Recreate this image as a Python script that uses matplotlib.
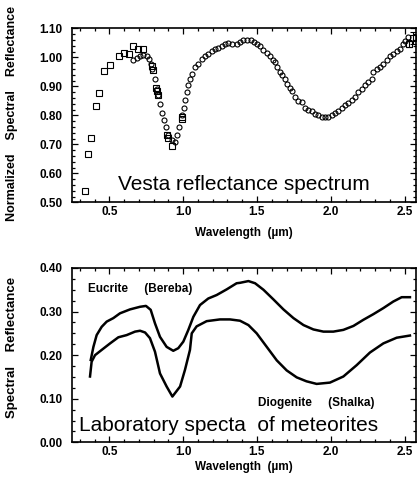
import numpy as np
import matplotlib
matplotlib.use('Agg')
import matplotlib.pyplot as plt
from matplotlib.ticker import MultipleLocator

plt.rcParams['font.family'] = ['Liberation Sans', 'DejaVu Sans']

# Vesta - pontos quadrados (telescopio, visivel)
quad_x = [0.333, 0.353, 0.378, 0.407, 0.428, 0.466, 0.502, 0.563, 0.602, 0.631, 0.663, 0.694,
          0.728, 0.791, 0.796, 0.814, 0.823, 0.827, 0.891, 0.900, 0.927, 0.992, 0.994]
quad_y = [0.540, 0.666, 0.723, 0.832, 0.879, 0.954, 0.975, 1.005, 1.015, 1.013, 1.039, 1.028,
          1.030, 0.969, 0.958, 0.896, 0.884, 0.871, 0.732, 0.723, 0.694, 0.786, 0.795]

# pontos com barra de erro no fim do espectro
erro_x = [2.530, 2.560]
erro_y = [1.048, 1.068]
erro_barra = [0.012, 0.020]

# Vesta - pontos circulares (infravermelho)
circ_x = [0.663, 0.685, 0.708, 0.730, 0.753, 0.769, 0.782, 0.791, 0.809, 0.821, 0.832, 0.843,
          0.859, 0.872, 0.881, 0.900, 0.922, 0.945, 0.956, 0.972, 0.994, 1.008, 1.012, 1.024,
          1.035, 1.046, 1.058, 1.080, 1.103, 1.125, 1.148, 1.170, 1.193, 1.216, 1.238, 1.261,
          1.283, 1.306, 1.328, 1.362, 1.385, 1.407, 1.430, 1.457, 1.480, 1.498, 1.520, 1.543,
          1.565, 1.588, 1.611, 1.622, 1.638, 1.656, 1.667, 1.690, 1.705, 1.723, 1.735, 1.757,
          1.780, 1.802, 1.825, 1.848, 1.870, 1.893, 1.915, 1.938, 1.960, 1.983, 2.006, 2.028,
          2.051, 2.073, 2.096, 2.119, 2.141, 2.164, 2.186, 2.209, 2.231, 2.254, 2.277, 2.288,
          2.310, 2.333, 2.356, 2.378, 2.401, 2.423, 2.446, 2.468, 2.491, 2.502, 2.525]
circ_y = [0.990, 0.998, 1.005, 1.009, 1.005, 0.996, 0.978, 0.961, 0.927, 0.892, 0.872, 0.841,
          0.810, 0.783, 0.761, 0.734, 0.715, 0.709, 0.732, 0.761, 0.801, 0.824, 0.852, 0.881,
          0.904, 0.927, 0.944, 0.967, 0.978, 0.993, 1.005, 1.013, 1.021, 1.028, 1.032, 1.039,
          1.045, 1.051, 1.047, 1.045, 1.053, 1.061, 1.061, 1.059, 1.053, 1.047, 1.038, 1.027,
          1.015, 1.004, 0.992, 0.984, 0.967, 0.950, 0.938, 0.927, 0.910, 0.896, 0.884, 0.864,
          0.850, 0.847, 0.827, 0.820, 0.814, 0.806, 0.801, 0.795, 0.793, 0.793, 0.801, 0.809,
          0.816, 0.824, 0.835, 0.843, 0.852, 0.864, 0.881, 0.892, 0.904, 0.915, 0.927, 0.950,
          0.961, 0.967, 0.978, 0.992, 1.004, 1.013, 1.022, 1.030, 1.045, 1.056, 1.070]

# Meteoritos - Eucrito (Bereba)
eucrito_x = [0.374, 0.392, 0.414, 0.448, 0.482, 0.527, 0.572, 0.640, 0.708, 0.748, 0.780, 0.809,
             0.843, 0.888, 0.933, 0.967, 1.001, 1.035, 1.069, 1.114, 1.170, 1.227, 1.295, 1.362,
             1.385, 1.442, 1.487, 1.544, 1.611, 1.679, 1.747, 1.815, 1.882, 1.950, 2.017, 2.085,
             2.153, 2.220, 2.288, 2.356, 2.423, 2.480, 2.536]
eucrito_y = [0.189, 0.219, 0.246, 0.265, 0.277, 0.285, 0.296, 0.305, 0.311, 0.313, 0.304, 0.273,
             0.242, 0.219, 0.210, 0.216, 0.231, 0.258, 0.288, 0.315, 0.330, 0.338, 0.351, 0.365,
             0.366, 0.370, 0.365, 0.350, 0.328, 0.305, 0.285, 0.269, 0.259, 0.254, 0.254, 0.258,
             0.267, 0.281, 0.294, 0.308, 0.323, 0.333, 0.333]

# Meteoritos - Diogenito (Shalka)
diogenito_x = [0.369, 0.380, 0.403, 0.448, 0.505, 0.561, 0.617, 0.674, 0.708, 0.742, 0.775, 0.809,
               0.843, 0.888, 0.927, 0.979, 1.012, 1.046, 1.058, 1.091, 1.159, 1.249, 1.317, 1.385,
               1.442, 1.498, 1.566, 1.634, 1.701, 1.769, 1.835, 1.904, 1.994, 2.085, 2.175, 2.265,
               2.356, 2.446, 2.536]
diogenito_y = [0.151, 0.185, 0.200, 0.212, 0.227, 0.241, 0.246, 0.254, 0.256, 0.252, 0.239, 0.208,
               0.158, 0.128, 0.105, 0.128, 0.166, 0.212, 0.250, 0.266, 0.278, 0.282, 0.282, 0.279,
               0.269, 0.250, 0.219, 0.188, 0.165, 0.149, 0.140, 0.134, 0.137, 0.151, 0.177, 0.206,
               0.227, 0.240, 0.245]

W, H = 417, 486
fig = plt.figure(figsize=(W / 100, H / 100), dpi=100)
eixo1 = fig.add_axes([72 / W, 1 - 202.3 / H, 344 / W, 173.8 / H])
eixo2 = fig.add_axes([72 / W, 1 - 442.3 / H, 344 / W, 174.3 / H])


def estilo(eixo, minor_y):
    eixo.set_xlim(0.247, 2.577)
    eixo.xaxis.set_major_locator(MultipleLocator(0.5))
    eixo.xaxis.set_minor_locator(MultipleLocator(0.1))
    eixo.yaxis.set_major_locator(MultipleLocator(0.1))
    eixo.yaxis.set_minor_locator(MultipleLocator(minor_y))
    eixo.tick_params(which='both', direction='in', top=True, right=True, width=0.9)
    eixo.tick_params(which='major', length=4)
    eixo.tick_params(which='minor', length=2.5)
    eixo.tick_params(axis='x', pad=2.5, labelsize=8.5)
    eixo.tick_params(axis='y', pad=7, labelsize=8.5)
    for lab in eixo.get_xticklabels() + eixo.get_yticklabels():
        lab.set_fontweight('bold')
    for s in eixo.spines.values():
        s.set_linewidth(1.2)
    eixo.set_xlabel('Wavelength  (\u00b5m)', fontsize=8.5, fontweight='bold')


# Painel de cima: espectro de Vesta
eixo1.plot(quad_x, quad_y, 's', mfc='none', mec='black', ms=4.6, mew=0.8)
eixo1.errorbar(erro_x, erro_y, yerr=erro_barra, fmt='s', mfc='none', mec='black',
               ecolor='black', ms=4.6, mew=0.8, elinewidth=0.8, capsize=2)
eixo1.plot(circ_x, circ_y, 'o', mfc='none', mec='black', ms=3.6, mew=0.8)
eixo1.set_ylim(0.50, 1.10)
estilo(eixo1, 0.02)
eixo1.yaxis.set_major_formatter(matplotlib.ticker.FormatStrFormatter('%.2f'))
eixo1.set_ylabel('Normalized    Spectral    Reflectance', fontsize=9, fontweight='bold')
eixo1.yaxis.set_label_coords(-0.157, 0.511)
eixo1.xaxis.set_label_coords(0.5, -0.14)
eixo1.text(0.134, 0.071, 'Vesta reflectance spectrum', transform=eixo1.transAxes,
           fontsize=15, va='baseline', ha='left')

# Painel de baixo: espectros de laboratorio
eixo2.plot(eucrito_x, eucrito_y, color='black', lw=1.8)
eixo2.plot(diogenito_x, diogenito_y, color='black', lw=1.8)
eixo2.set_ylim(0.0, 0.40)
estilo(eixo2, 0.025)
eixo2.yaxis.set_major_formatter(matplotlib.ticker.FormatStrFormatter('%.2f'))
eixo2.set_ylabel('Spectral    Reflectance', fontsize=9.5, fontweight='bold')
eixo2.yaxis.set_label_coords(-0.157, 0.547)
eixo2.xaxis.set_label_coords(0.5, -0.105)
eixo2.text(0.047, 0.878, 'Eucrite     (Bereba)', transform=eixo2.transAxes,
           fontsize=8.5, fontweight='bold', va='center', ha='left')
eixo2.text(0.541, 0.224, 'Diogenite     (Shalka)', transform=eixo2.transAxes,
           fontsize=8.5, fontweight='bold', va='center', ha='left')
eixo2.text(0.020, 0.065, 'Laboratory specta  of meteorites', transform=eixo2.transAxes,
           fontsize=15, va='baseline', ha='left')

plt.savefig('out.png', dpi=100)
